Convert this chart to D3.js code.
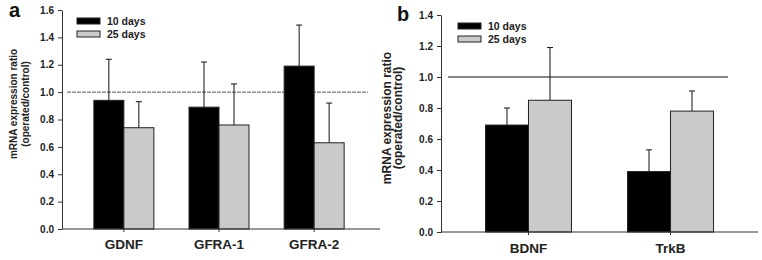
<!DOCTYPE html>
<html>
<head>
<meta charset="utf-8">
<script src="https://cdn.jsdelivr.net/npm/d3@7"></script>
<style>
  body { margin: 0; background: #fff; }
  svg text { font-family: "Liberation Sans", Arial, sans-serif; font-weight: bold; }
</style>
</head>
<body>
<div id="chart"></div>
<script>
// panel a
const catsA = ["GDNF", "GFRA-1", "GFRA-2"];
const days10A = [0.94, 0.89, 1.19];
const days10ErrA = [0.30, 0.33, 0.30];
const days25A = [0.74, 0.76, 0.63];
const days25ErrA = [0.19, 0.30, 0.29];
const ticksA = [0, 0.2, 0.4, 0.6, 0.8, 1.0, 1.2, 1.4, 1.6];

// panel b
const catsB = ["BDNF", "TrkB"];
const days10B = [0.69, 0.39];
const days10ErrB = [0.11, 0.14];
const days25B = [0.85, 0.78];
const days25ErrB = [0.34, 0.13];
const ticksB = [0, 0.2, 0.4, 0.6, 0.8, 1.0, 1.2, 1.4];

const seriesNames = ["10 days", "25 days"];
const seriesColors = ["#000000", "#cacaca"];
const refValue = 1.0;

const svg = d3.select("#chart").append("svg")
  .attr("width", 762).attr("height", 260);

function drawPanel(p) {
  const g = svg.append("g");
  const y = d3.scaleLinear().domain([0, d3.max(p.ticks)]).range([p.bottom, p.top]);
  const x = d3.scalePoint().domain(p.cats).range([p.left, p.right]).padding(p.pad);

  // y axis
  const yAxis = g.append("g")
    .attr("transform", `translate(${p.axisX},0)`)
    .call(d3.axisLeft(y).tickValues(p.ticks).tickFormat(d3.format(".1f"))
      .tickSize(4).tickSizeOuter(0).tickPadding(4));
  yAxis.selectAll("text").style("font-size", "10px").attr("fill", "#222");
  yAxis.selectAll("line, path").attr("stroke", "#333");

  // y title, two lines
  ["mRNA expression ratio", "(operated/control)"].forEach((t, i) => {
    g.append("text")
      .attr("transform", `translate(${p.titleX + i * p.titleGap},${p.titleY}) rotate(-90)`)
      .attr("text-anchor", "middle")
      .style("font-size", p.titleSize + "px")
      .attr("fill", "#222")
      .text(t);
  });

  // reference line at 1.0
  g.append("line")
    .attr("x1", p.refX1).attr("x2", p.refX2)
    .attr("y1", y(refValue)).attr("y2", y(refValue))
    .attr("stroke", p.refColor)
    .attr("stroke-width", 1)
    .attr("stroke-dasharray", p.refDash);

  const series = [
    { vals: p.s10, errs: p.e10, color: seriesColors[0], off: -1 },
    { vals: p.s25, errs: p.e25, color: seriesColors[1], off: 0 }
  ];

  series.forEach((s) => {
    const data = p.cats.map((c, i) => ({ cat: c, v: s.vals[i], e: s.errs[i] }));
    const bx = (d) => x(d.cat) + s.off * p.barW;

    // error bars (upper only)
    g.selectAll(null).data(data).enter().append("line")
      .attr("x1", (d) => bx(d) + p.barW / 2).attr("x2", (d) => bx(d) + p.barW / 2)
      .attr("y1", (d) => y(d.v)).attr("y2", (d) => y(d.v + d.e))
      .attr("stroke", "#111").attr("stroke-width", 1);
    g.selectAll(null).data(data).enter().append("line")
      .attr("x1", (d) => bx(d) + p.barW / 2 - 3).attr("x2", (d) => bx(d) + p.barW / 2 + 3)
      .attr("y1", (d) => y(d.v + d.e)).attr("y2", (d) => y(d.v + d.e))
      .attr("stroke", "#111").attr("stroke-width", 1);

    g.selectAll(null).data(data).enter().append("rect")
      .attr("x", bx)
      .attr("y", (d) => y(d.v))
      .attr("width", p.barW)
      .attr("height", (d) => y(0) - y(d.v))
      .attr("fill", s.color)
      .attr("stroke", "#222")
      .attr("stroke-width", 1);
  });

  // x axis line and ticks
  g.append("line")
    .attr("x1", p.axisX).attr("x2", p.axisEnd)
    .attr("y1", y(0)).attr("y2", y(0))
    .attr("stroke", "#333");
  g.selectAll(null).data(p.cats).enter().append("line")
    .attr("x1", (d) => x(d)).attr("x2", (d) => x(d))
    .attr("y1", y(0)).attr("y2", y(0) + 3)
    .attr("stroke", "#333");
  g.selectAll(null).data(p.cats).enter().append("text")
    .attr("x", (d) => x(d))
    .attr("y", p.catY)
    .attr("text-anchor", "middle")
    .style("font-size", "13.5px")
    .attr("fill", "#222")
    .text((d) => d);

  // legend
  seriesNames.forEach((name, i) => {
    const ly = p.legY + i * 13;
    g.append("rect")
      .attr("x", p.legX).attr("y", ly)
      .attr("width", 23).attr("height", 6)
      .attr("fill", seriesColors[i])
      .attr("stroke", "#222");
    g.append("text")
      .attr("x", p.legX + 30).attr("y", ly + 7)
      .style("font-size", "10.5px")
      .attr("fill", "#222")
      .text(name);
  });

  // panel letter
  g.append("text")
    .attr("x", p.letterX).attr("y", p.letterY)
    .style("font-size", "20px")
    .attr("fill", "#111")
    .text(p.letter);
}

drawPanel({
  cats: catsA, s10: days10A, e10: days10ErrA, s25: days25A, e25: days25ErrA,
  ticks: ticksA, top: 10, bottom: 229,
  axisX: 62, axisEnd: 380, left: 62, right: 376, pad: 0.65, barW: 30,
  titleX: 17, titleY: 104, titleGap: 12, titleSize: 10,
  refX1: 67, refX2: 368, refColor: "#555", refDash: "4,1",
  catY: 249, legX: 77, legY: 18, letter: "a", letterX: 9, letterY: 17
});

drawPanel({
  cats: catsB, s10: days10B, e10: days10ErrB, s25: days25B, e25: days25ErrB,
  ticks: ticksB, top: 15, bottom: 232,
  axisX: 441, axisEnd: 758, left: 441, right: 758, pad: 0.616, barW: 43,
  titleX: 391, titleY: 118, titleGap: 11, titleSize: 12,
  refX1: 448, refX2: 728, refColor: "#111", refDash: null,
  catY: 253, legX: 458, legY: 23, letter: "b", letterX: 397, letterY: 21
});
</script>
</body>
</html>
